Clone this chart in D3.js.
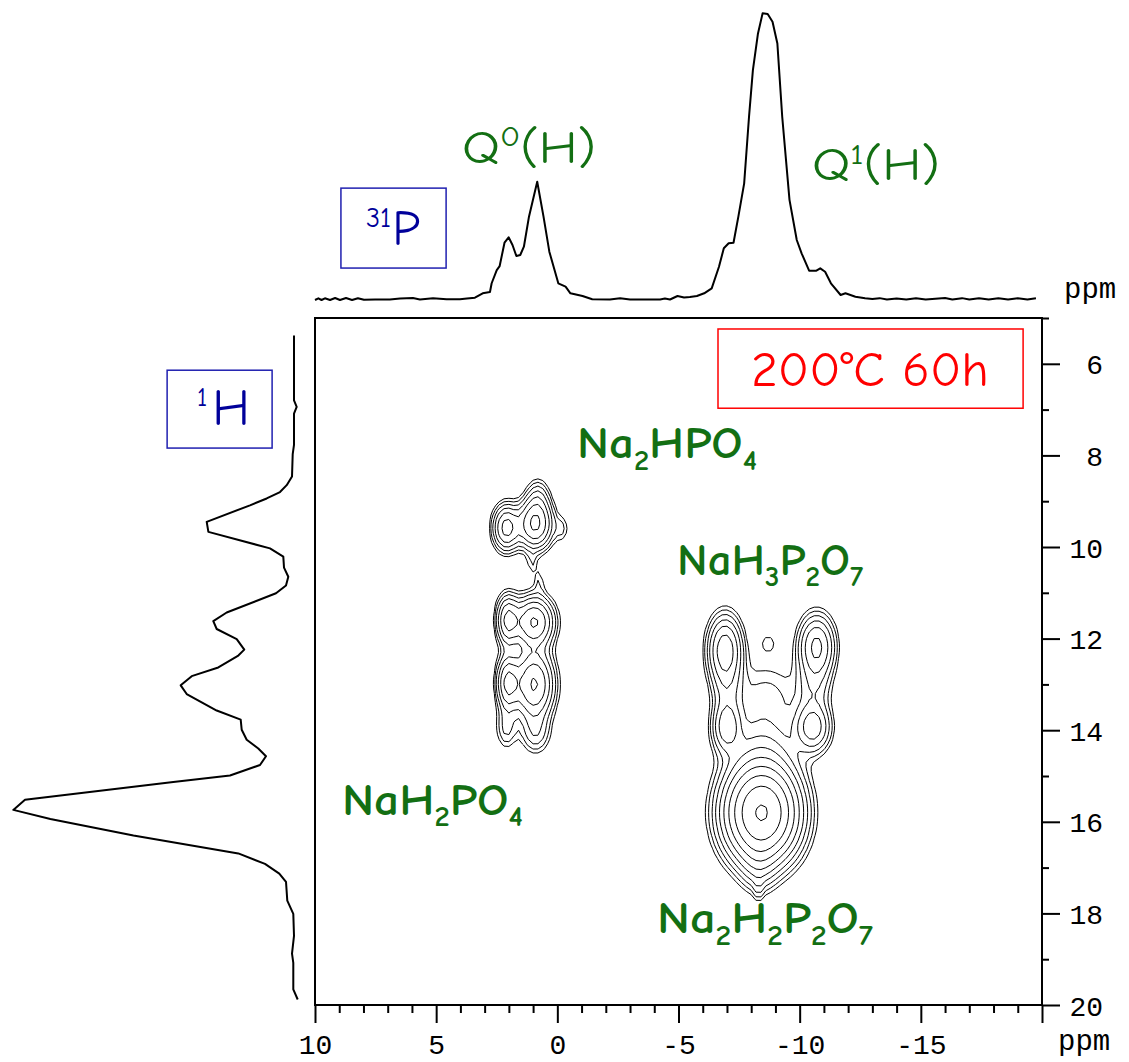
<!DOCTYPE html>
<html>
<head>
<meta charset="utf-8">
<script src="https://cdn.jsdelivr.net/npm/d3@7"></script>
<style>
  body { margin: 0; background: #fff; }
  svg { display: block; }
</style>
</head>
<body>
<svg id="chart" width="1129" height="1062"></svg>
<script>
// ---------------------------------------------------------------
// 1H-31P HETCOR of the sample treated at 200 °C for 60 h
// ---------------------------------------------------------------

// 31P projection (top trace): [31P shift / ppm, relative intensity]
const p31Spectrum = [
  [10.00,-0.35],[9.86,0.24],[9.73,-0.35],[9.59,0.24],[9.38,-0.35],[9.17,0.35],
  [8.97,-0.35],[8.72,0.35],[8.47,-0.35],[8.23,0.28],[7.98,-0.28],[7.52,-0.17],
  [6.91,-0.17],[6.49,0.17],[5.96,0.35],[5.67,-0.2],[5.13,0.24],[4.57,-0.1],
  [4.02,-0.1],[3.73,0.2],[3.40,0.45],[3.08,1.99],[2.78,2.44],[2.71,5.5],
  [2.50,10.1],[2.38,11.5],[2.18,19.65],[2.01,21.54],[1.85,18.85],[1.69,15.01],
  [1.53,15.36],[1.38,18.25],[1.17,28.73],[0.83,40.94],[0.57,28.73],[0.33,16.51],
  [-0.04,5.48],[-0.34,4.29],[-0.54,1.99],[-1.04,1.05],[-1.44,-0.1],[-2.17,-0.17],
  [-2.59,0.24],[-3.00,-0.17],[-3.62,-0.17],[-4.24,-0.17],[-4.44,0.17],[-4.65,-0.17],
  [-4.96,1.05],[-5.23,0.52],[-5.47,0.7],[-5.76,1.05],[-6.06,1.99],[-6.37,3.73],
  [-6.67,11.27],[-6.87,17.7],[-7.07,19.44],[-7.27,19.65],[-7.47,28.73],[-7.71,40.38],
  [-7.91,63.6],[-8.07,79.9],[-8.28,92.7],[-8.47,99.7],[-8.68,99.5],[-8.88,96.8],
  [-9.08,89.2],[-9.28,63.6],[-9.58,34.6],[-9.88,20.6],[-10.08,15.95],[-10.39,9.88],
  [-10.69,9.88],[-10.85,10.7],[-11.05,9.5],[-11.29,5.48],[-11.69,1.4],[-11.89,1.99],
  [-12.30,0.8],[-12.70,0.24],[-13.0,0],[-13.3,0.3],[-13.6,-0.2],[-14.0,0.2],
  [-14.4,-0.2],[-14.8,0.3],[-15.2,-0.2],[-15.6,0.1],[-16.0,0.35],[-16.3,-0.2],
  [-16.7,0.3],[-17.0,-0.2],[-17.4,0.3],[-17.8,-0.2],[-18.2,0.3],[-18.6,-0.2],
  [-19.0,0.3],[-19.4,-0.2],[-19.75,0.3]
];

// 1H projection (left trace): [1H shift / ppm, relative intensity]
const h1Spectrum = [
  [5.38,0],[6.80,0],[6.94,-0.96],[7.09,0],[7.77,0],[7.97,0.46],[8.46,0.71],
  [8.65,2.6],[8.80,4.99],[8.94,9.73],[9.09,15.68],[9.45,31.1],[9.67,30.5],
  [10.03,8.55],[10.21,3.81],[10.45,3.56],[10.65,2.03],[10.84,2.85],[11.01,6.41],
  [11.43,23.98],[11.62,28.75],[11.79,27.54],[12.01,20.41],[12.24,17.71],[12.37,19.84],
  [12.63,26.97],[12.82,36.44],[13.02,40.36],[13.21,38.23],[13.57,27.54],[13.77,18.99],
  [13.99,18.63],[14.21,16.85],[14.40,12.72],[14.57,9.98],[14.76,12.11],[14.99,22.8],
  [15.13,43.0],[15.52,95.83],[15.74,100],[15.94,86.8],[16.30,57.2],[16.69,19.84],
  [16.92,10.33],[17.13,5.24],[17.31,2.85],[17.72,2.39],[18.01,0.25],[18.49,0],
  [18.88,0.71],[19.08,0.25],[19.66,0.25],[19.88,-1.32]
];

// 2D correlation peaks: [31P centre, 1H centre, 31P width, 1H width, amplitude]
const crossPeaks = [
  // Na2HPO4
  [0.92, 9.50, 0.42, 0.32, 12.5],
  [2.10, 9.58, 0.33, 0.30, 9.0],
  [0.80, 8.95, 0.30, 0.28, 3.0],
  [-0.20, 9.60, 0.20, 0.20, 1.5],
  [1.05, 10.35, 0.15, 0.18, 1.3],
  [0.75, 10.75, 0.15, 0.20, 1.3],
  // NaH2PO4
  [2.04, 11.60, 0.28, 0.33, 8.5],
  [0.96, 11.64, 0.48, 0.33, 12.0],
  [2.04, 12.97, 0.28, 0.36, 8.5],
  [0.96, 13.00, 0.48, 0.45, 12.0],
  [2.10, 13.95, 0.28, 0.30, 2.5],
  [0.90, 14.05, 0.38, 0.30, 3.0],
  // NaH3P2O7
  [-6.92, 12.25, 0.42, 0.45, 10.0],
  [-10.70, 12.18, 0.45, 0.42, 8.5],
  [-6.99, 13.92, 0.36, 0.34, 6.5],
  [-10.55, 13.93, 0.45, 0.34, 6.5],
  [-7.00, 13.10, 0.40, 0.38, 2.6],
  [-10.60, 13.05, 0.45, 0.35, 2.4],
  [-8.60, 13.30, 0.95, 0.55, 1.8],
  [-8.70, 12.10, 0.25, 0.16, 1.3],
  [-8.40, 14.40, 1.00, 0.45, 2.4],
  // Na2H2P2O7
  [-8.43, 15.80, 0.85, 0.60, 40.0],
  [-8.30, 16.90, 0.45, 0.40, 3.0],
  [-8.30, 17.45, 0.12, 0.20, 1.3]
];

// contour levels (geometric spacing)
const contourLevels = [1, 1.5, 2.25, 3.38, 5.06, 7.59, 11.4, 17.1, 25.6, 38.4];

// axis ticks
const p31MajorTicks = [10, 5, 0, -5, -10, -15, -20];
const p31TickLabels = ["10", "5", "0", "-5", "-10", "-15", ""];
const p31MinorTicks = d3.range(9, -20, -1).filter(v => v % 5 !== 0);
const h1MajorTicks = [6, 8, 10, 12, 14, 16, 18, 20];
const h1TickLabels = ["6", "8", "10", "12", "14", "16", "18", "20"];
const h1MinorTicks = [5, 7, 9, 11, 13, 15, 17, 19];

// annotation texts: [text, "sub" | "sup" | undefined]
const p31Title = [["31", "sup"], ["P"]];
const h1Title = [["1", "sup"], ["H"]];
const q0Label = [["Q"], ["0", "sup"], ["(H)"]];
const q1Label = [["Q"], ["1", "sup"], ["(H)"]];
const conditionLabel = "200°C 60h";
const labelNa2HPO4 = [["Na"], ["2", "sub"], ["HPO"], ["4", "sub"]];
const labelNaH3P2O7 = [["NaH"], ["3", "sub"], ["P"], ["2", "sub"], ["O"], ["7", "sub"]];
const labelNaH2PO4 = [["NaH"], ["2", "sub"], ["PO"], ["4", "sub"]];
const labelNa2H2P2O7 = [["Na"], ["2", "sub"], ["H"], ["2", "sub"], ["P"], ["2", "sub"], ["O"], ["7", "sub"]];

// ---------------------------------------------------------------
const svg = d3.select("#chart");
const plot = { left: 315, right: 1042, top: 318, bottom: 1005 };

const x = d3.scaleLinear().domain([10, -20]).range([plot.left, plot.right]);
const y = d3.scaleLinear().domain([5, 20]).range([plot.top, plot.bottom]);
const topY = d3.scaleLinear().domain([0, 100]).range([299, 12.5]);
const sideX = d3.scaleLinear().domain([0, 100]).range([294, 13.3]);

const green = "#136f13";
const handFont = "'Comic Sans MS','Comic Neue','Lato','Open Sans',sans-serif";
const monoFont = "'Liberation Mono','Courier New','DejaVu Sans Mono',monospace";

// rich text with sub/superscripts
function richText(parent, parts, o) {
  const t = parent.append("text")
    .attr("x", o.x).attr("y", o.y)
    .attr("font-family", o.family || handFont)
    .attr("font-size", o.size)
    .attr("font-weight", o.weight || "normal")
    .attr("fill", o.fill)
    .attr("text-anchor", o.anchor || "start");
  let shift = 0;
  parts.forEach(([s, kind], i) => {
    const target = kind === "sub" ? o.size * 0.26 : kind === "sup" ? -o.size * 0.36 : 0;
    const ts = t.append("tspan")
      .attr("dy", target - shift)
      .attr("font-size", kind ? o.size * (o.scriptScale || 0.62) : o.size)
      .text(s);
    if (i > 0 && o.gap) ts.attr("dx", o.gap);
    shift = target;
  });
  if (o.length) t.attr("textLength", o.length).attr("lengthAdjust", "spacingAndGlyphs");
  return t;
}

// ---- 2D contour map ----
const p0 = 11, dp = -0.2, nCols = 161;
const h0 = 4, dh = 0.1, nRows = 171;
const field = new Float64Array(nCols * nRows);
for (let j = 0; j < nRows; j++) {
  const h = h0 + j * dh;
  for (let i = 0; i < nCols; i++) {
    const p = p0 + i * dp;
    let v = 0;
    for (const [pc, hc, sp, sh, a] of crossPeaks) {
      const u = (p - pc) / sp, w = (h - hc) / sh;
      v += a * Math.exp(-0.5 * (u * u + w * w));
    }
    field[j * nCols + i] = v;
  }
}
const contours = d3.contours().size([nCols, nRows]).thresholds(contourLevels)(field);
const gridToPpm = d3.geoTransform({
  point(gx, gy) { this.stream.point(x(p0 + (gx - 0.5) * dp), y(h0 + (gy - 0.5) * dh)); }
});
const contourPath = d3.geoPath(gridToPpm);

svg.append("clipPath").attr("id", "plot-clip")
  .append("rect")
  .attr("x", plot.left).attr("y", plot.top)
  .attr("width", plot.right - plot.left).attr("height", plot.bottom - plot.top);

svg.append("g").attr("clip-path", "url(#plot-clip)")
  .selectAll("path").data(contours).join("path")
  .attr("d", contourPath)
  .attr("fill", "none")
  .attr("stroke", "#000")
  .attr("stroke-width", 1)
  .attr("stroke-linejoin", "round");

// ---- frame ----
svg.append("rect")
  .attr("x", plot.left).attr("y", plot.top)
  .attr("width", plot.right - plot.left).attr("height", plot.bottom - plot.top)
  .attr("fill", "none").attr("stroke", "#000").attr("stroke-width", 2);

// ---- axes ----
const xMajor = svg.append("g").attr("transform", `translate(0,${plot.bottom})`)
  .call(d3.axisBottom(x).tickValues(p31MajorTicks).tickSize(18).tickFormat((d, i) => p31TickLabels[i]));
const xMinor = svg.append("g").attr("transform", `translate(0,${plot.bottom})`)
  .call(d3.axisBottom(x).tickValues(p31MinorTicks).tickSize(8).tickFormat(""));
const yMajor = svg.append("g").attr("transform", `translate(${plot.right},0)`)
  .call(d3.axisRight(y).tickValues(h1MajorTicks).tickSize(18).tickFormat((d, i) => h1TickLabels[i]));
const yMinor = svg.append("g").attr("transform", `translate(${plot.right},0)`)
  .call(d3.axisRight(y).tickValues(h1MinorTicks).tickSize(7).tickFormat(""));

[xMajor, xMinor, yMajor, yMinor].forEach(g => {
  g.select(".domain").remove();
  g.selectAll(".tick line").attr("stroke", "#000").attr("stroke-width", 2);
  g.selectAll("text").attr("font-family", monoFont).attr("font-size", 28).attr("fill", "#000");
});
xMajor.selectAll(".tick text").attr("y", 49).attr("dy", null);
yMajor.selectAll(".tick text").attr("x", 61).attr("dy", "0.36em").attr("text-anchor", "end");

svg.append("text").attr("x", 1064).attr("y", 298)
  .attr("font-family", monoFont).attr("font-size", 29).text("ppm");
svg.append("text").attr("x", 1058).attr("y", 1050)
  .attr("font-family", monoFont).attr("font-size", 29).text("ppm");

// ---- projections ----
svg.append("path").datum(p31Spectrum)
  .attr("d", d3.line().x(d => x(d[0])).y(d => topY(d[1])))
  .attr("fill", "none").attr("stroke", "#000").attr("stroke-width", 2)
  .attr("stroke-linejoin", "round");

svg.append("path").datum(h1Spectrum)
  .attr("d", d3.line().x(d => sideX(d[1])).y(d => y(d[0])))
  .attr("fill", "none").attr("stroke", "#000").attr("stroke-width", 2)
  .attr("stroke-linejoin", "round");

// ---- nucleus boxes ----
const navy = "#00009a";
svg.append("rect").attr("x", x(8.93)).attr("y", topY(38.7))
  .attr("width", x(4.59) - x(8.93)).attr("height", topY(10.8) - topY(38.7))
  .attr("fill", "none").attr("stroke", "#2020b0").attr("stroke-width", 1.5);
richText(svg, p31Title, { x: x(7.9), y: topY(18.85), size: 50, fill: navy, scriptScale: 0.56, gap: 1 });

svg.append("rect").attr("x", sideX(45.2)).attr("y", y(6.14))
  .attr("width", sideX(7.8) - sideX(45.2)).attr("height", y(7.84) - y(6.14))
  .attr("fill", "none").attr("stroke", "#2020b0").attr("stroke-width", 1.5);
richText(svg, h1Title, { x: sideX(34.6), y: y(7.34), size: 52, fill: navy, scriptScale: 0.5, gap: 5 });

// ---- peak assignments ----
richText(svg, q0Label, { x: x(3.93), y: topY(47.5), size: 46, fill: green, length: 134 });
richText(svg, q1Label, { x: x(-10.51), y: topY(41.5), size: 46, fill: green, length: 128 });

svg.append("rect").attr("x", x(-6.63)).attr("y", y(5.24))
  .attr("width", x(-19.22) - x(-6.63)).attr("height", y(6.97) - y(5.24))
  .attr("fill", "none").attr("stroke", "#ff0000").attr("stroke-width", 1.5);
svg.append("text").attr("x", x(-12.9)).attr("y", y(6.48))
  .attr("text-anchor", "middle")
  .attr("font-family", handFont).attr("font-size", 48).attr("fill", "#ff0000")
  .attr("textLength", 238).attr("lengthAdjust", "spacingAndGlyphs")
  .text(conditionLabel);

richText(svg, labelNa2HPO4, { x: x(-0.81), y: y(8.06), size: 44, weight: "bold", fill: green, length: 180 });
richText(svg, labelNaH3P2O7, { x: x(-4.94), y: y(10.61), size: 44, weight: "bold", fill: green, length: 186 });
richText(svg, labelNaH2PO4, { x: x(8.89), y: y(15.85), size: 44, weight: "bold", fill: green, length: 181 });
richText(svg, labelNa2H2P2O7, { x: x(-4.11), y: y(18.43), size: 44, weight: "bold", fill: green, length: 216 });
</script>
</body>
</html>
